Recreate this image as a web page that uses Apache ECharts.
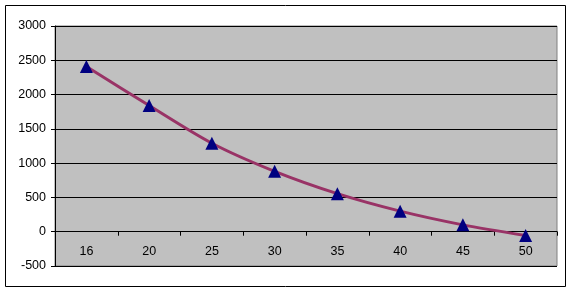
<!DOCTYPE html>
<html><head><meta charset="utf-8">
<script src="https://cdn.jsdelivr.net/npm/echarts@6/dist/echarts.min.js"></script>
<style>html,body{margin:0;padding:0;background:#fff}#c{width:573px;height:293px}</style>
</head><body><div id="c"></div>
<script>
const categories = ['16','20','25','30','35','40','45','50'];
const values = [2410, 1840, 1290, 880, 555, 300, 100, -55];
const yMin = -500, yMax = 3000, yStep = 500;

const chart = echarts.init(document.getElementById('c'), null, {renderer:'canvas'});
chart.setOption({
  animation: false,
  backgroundColor: '#ffffff',
  textStyle: {fontFamily: 'Liberation Sans, Arial, sans-serif'},
  graphic: [{
    type: 'rect', shape: {x: 5.5, y: 5.5, width: 560, height: 281},
    style: {fill: 'none', stroke: '#000', lineWidth: 1}, z: -10
  }],
  grid: {
    left: 55, top: 26, right: 16, bottom: 27,
    show: true, backgroundColor: '#c0c0c0', borderColor: '#808080', borderWidth: 1
  },
  xAxis: {
    type: 'category', data: categories, boundaryGap: true,
    axisLine: {onZero: true, lineStyle: {color: '#000', width: 1}},
    axisTick: {show: true, length: 4, inside: false, lineStyle: {color: '#000'}},
    axisLabel: {color: '#000', fontSize: 12.5, margin: -21, fontFamily: 'Liberation Sans, Arial, sans-serif'},
    splitLine: {show: false}
  },
  yAxis: {
    type: 'value', min: yMin, max: yMax, interval: yStep,
    axisLine: {show: true, lineStyle: {color: '#000', width: 1}},
    axisTick: {show: true, length: 4, lineStyle: {color: '#000'}},
    axisLabel: {color: '#000', fontSize: 12.5, margin: 9, formatter: v => String(v),
      fontFamily: 'Liberation Sans, Arial, sans-serif'},
    splitLine: {show: true, lineStyle: {color: '#000', width: 1}}
  },
  series: [{
    type: 'line', data: values, smooth: 0.3,
    lineStyle: {color: '#993366', width: 3},
    symbol: 'triangle', symbolSize: [13, 13],
    itemStyle: {color: '#000080', borderWidth: 0},
    z: 5
  }]
});
</script></body></html>
